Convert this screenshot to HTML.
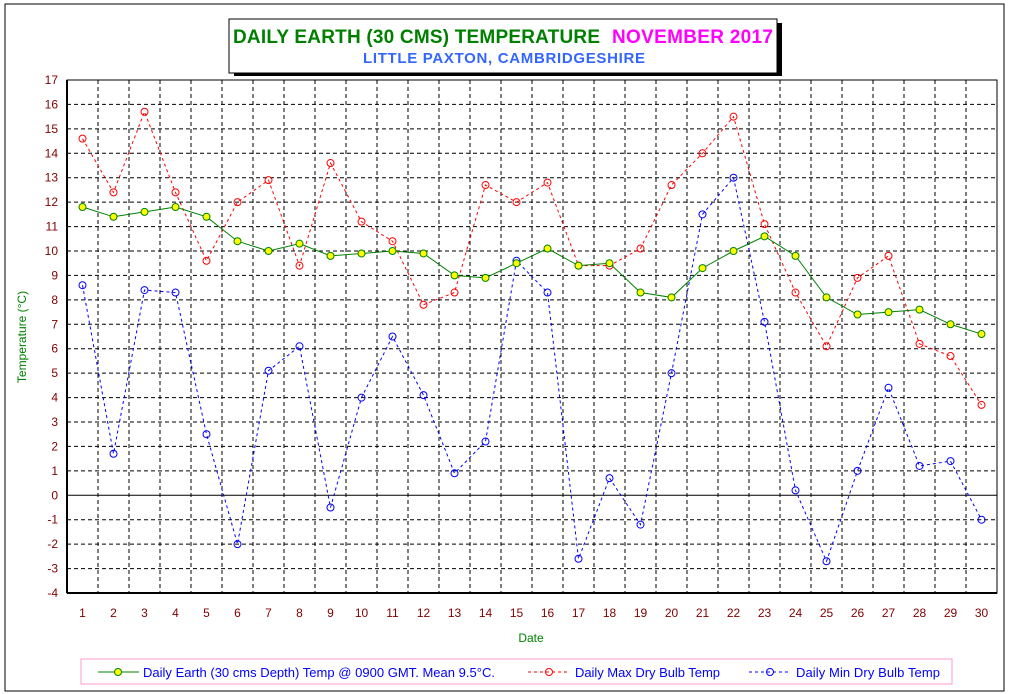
<!DOCTYPE html>
<html><head><meta charset="utf-8"><style>
body{margin:0;background:#fff;}
svg{display:block;font-family:"Liberation Sans",Arial,sans-serif;}
</style></head><body>
<svg id="chart" width="1010" height="694">
<rect x="5" y="4" width="999" height="687" fill="#fff" stroke="#000" stroke-width="1"/>
<rect x="234" y="23" width="548" height="53" fill="#000"/>
<rect x="229" y="19" width="548" height="54" fill="#fff" stroke="#000"/>
<text x="233" y="43" font-size="19" font-weight="bold" fill="#008000" textLength="367">DAILY EARTH (30 CMS) TEMPERATURE</text>
<text x="612" y="43" font-size="19" font-weight="bold" fill="#ff00ff" textLength="161">NOVEMBER 2017</text>
<text x="363" y="63" font-size="15" font-weight="bold" fill="#3366ff" textLength="282">LITTLE PAXTON, CAMBRIDGESHIRE</text>
<g id="grid"></g><g id="series"></g><g id="labels"></g>
<text x="26" y="337" transform="rotate(-90 26 337)" text-anchor="middle" font-size="12" fill="#008000">Temperature (°C)</text>
<text x="531" y="642" text-anchor="middle" font-size="12" fill="#008000">Date</text>
<rect x="81" y="659" width="871" height="25" fill="#fff" stroke="#ff99cc"/>
<g><line x1="98" y1="672" x2="139" y2="672" stroke="#008000"/><circle cx="118" cy="672" r="3.5" fill="#ffff00" stroke="#008000"/><text x="143" y="677" font-size="13" fill="#0000ff" textLength="352">Daily Earth (30 cms Depth) Temp @ 0900 GMT. Mean 9.5°C.</text></g>
<g><line x1="528" y1="672" x2="570" y2="672" stroke="#ff0000" stroke-dasharray="3,3"/><circle cx="549" cy="672" r="3.5" fill="none" stroke="#ff0000"/><text x="575" y="677" font-size="13" fill="#0000ff" textLength="145">Daily Max Dry Bulb Temp</text></g>
<g><line x1="749" y1="672" x2="791" y2="672" stroke="#0000ff" stroke-dasharray="3,3"/><circle cx="770" cy="672" r="3.5" fill="none" stroke="#0000ff"/><text x="796" y="677" font-size="13" fill="#0000ff" textLength="144">Daily Min Dry Bulb Temp</text></g>
</svg>
<script>
const days=[1,2,3,4,5,6,7,8,9,10,11,12,13,14,15,16,17,18,19,20,21,22,23,24,25,26,27,28,29,30];
const earthTemp=[11.8,11.4,11.6,11.8,11.4,10.4,10.0,10.3,9.8,9.9,10.0,9.9,9.0,8.9,9.5,10.1,9.4,9.5,8.3,8.1,9.3,10.0,10.6,9.8,8.1,7.4,7.5,7.6,7.0,6.6];
const maxTemp=[14.6,12.4,15.7,12.4,9.6,12.0,12.9,9.4,13.6,11.2,10.4,7.8,8.3,12.7,12.0,12.8,9.4,9.4,10.1,12.7,14.0,15.5,11.1,8.3,6.1,8.9,9.8,6.2,5.7,3.7];
const minTemp=[8.6,1.7,8.4,8.3,2.5,-2.0,5.1,6.1,-0.5,4.0,6.5,4.1,0.9,2.2,9.6,8.3,-2.6,0.7,-1.2,5.0,11.5,13.0,7.1,0.2,-2.7,1.0,4.4,1.2,1.4,-1.0];
const yTicks=[-4,-3,-2,-1,0,1,2,3,4,5,6,7,8,9,10,11,12,13,14,15,16,17];
const NS='http://www.w3.org/2000/svg';
const L=67,R=997,T=80,B=593,yMin=-4,yMax=17;
const colW=(R-L)/days.length;
const X=d=>L+(d-0.5)*colW;
const Y=v=>B-(v-yMin)/(yMax-yMin)*(B-T);
function mk(tag,a,parent){const e=document.createElementNS(NS,tag);for(const k in a)e.setAttribute(k,a[k]);parent.appendChild(e);return e;}
const grid=document.getElementById('grid'),ser=document.getElementById('series'),lab=document.getElementById('labels');
yTicks.forEach(t=>{
 const y=Y(t);
 const ln=mk('line',{x1:L,x2:R,y1:y,y2:y,stroke:'#000','stroke-dasharray':t===0||t===yMin?'none':'4,3'},grid);
 
 
 const tx=mk('text',{x:L-9,y:y+4,'text-anchor':'end','font-size':12,fill:'#800000'},lab);
 tx.textContent=t;
 
 
});
for(let i=1;i<days.length;i++){
 const x=L+i*colW;
 const ln=mk('line',{x1:x,x2:x,y1:T,y2:B,stroke:'#000','stroke-dasharray':'4,3'},grid);
 
 
}
mk('rect',{x:L,y:T,width:R-L,height:B-T,fill:'none',stroke:'#000'},grid);
mk('line',{x1:L,x2:L,y1:T,y2:B,stroke:'#000','stroke-width':2},grid);
mk('line',{x1:L,x2:R,y1:B,y2:B,stroke:'#000','stroke-width':2},grid);
days.forEach(d=>{
 const tx=mk('text',{x:X(d),y:617,'text-anchor':'middle','font-size':12,fill:'#800000'},lab);
 tx.textContent=d;
 
 
});
function series(vals,color,dash,fill,name){
 const pts=vals.map((v,i)=>X(days[i])+','+Y(v)).join(' ');
 const pl=mk('polyline',{points:pts,fill:'none',stroke:color,'stroke-dasharray':dash},ser);
 
 
 vals.forEach((v,i)=>{
  const c=mk('circle',{cx:X(days[i]),cy:Y(v),r:3.5,fill:fill,stroke:color},ser);
  
  
 });
}
series(maxTemp,'#ff0000','3,3','none','max-temp');
series(minTemp,'#0000ff','3,3','none','min-temp');
series(earthTemp,'#008000','none','#ffff00','earth-temp');
</script>
</body></html>
